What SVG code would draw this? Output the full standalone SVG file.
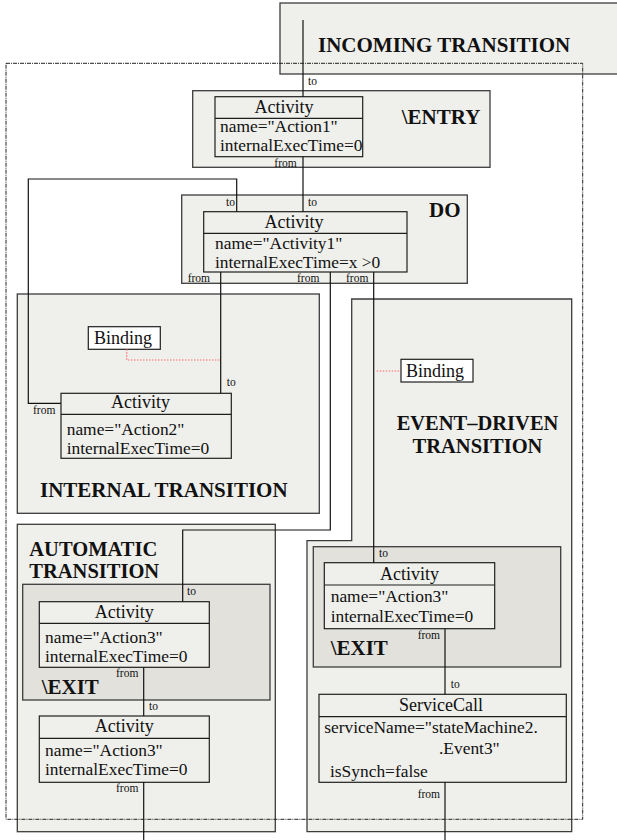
<svg xmlns="http://www.w3.org/2000/svg" width="617" height="840" viewBox="0 0 617 840">
  <style>
    .region { fill: #efefeb; stroke: #3c3c3c; stroke-width: 1.3; }
    .exit { fill: #e2e1dc; stroke: #3c3c3c; stroke-width: 1.3; }
    .cls { fill: #efefeb; stroke: #1e1e1e; stroke-width: 1.2; }
    .sep { stroke: #1e1e1e; stroke-width: 1.2; }
    .tag { fill: #ffffff; stroke: #1e1e1e; stroke-width: 1.2; }
    .wire { fill: none; stroke: #111; stroke-width: 1.2; }
    .bind { fill: none; stroke: #ff6a6a; stroke-width: 1.2; stroke-dasharray: 1.5 1.5; }
    .frame { fill: none; stroke: #222; stroke-width: 1; stroke-dasharray: 4 1 1 1; }
    text { font-family: "Liberation Serif", "Times New Roman", serif; fill: #111; }
    .title { font-size: 21px; font-weight: bold; }
    .title2 { font-size: 20.5px; font-weight: bold; }
    .head { font-size: 18px; }
    .body { font-size: 17.4px; }
    .small { font-size: 11.5px; }
    .mid { text-anchor: middle; }
  </style>

  <!-- Incoming transition -->
  <g id="incoming">
    <rect class="region" x="280" y="3" width="345" height="71"/>
    <text class="title" x="318" y="52">INCOMING TRANSITION</text>
  </g>

  <!-- Entry region -->
  <g id="entry">
    <rect class="region" x="192.7" y="90.7" width="297.3" height="76.6"/>
    <text class="title" x="401.7" y="124">\ENTRY</text>
  </g>
  <g id="action1">
    <rect class="cls" x="215" y="96.7" width="147.7" height="60"/>
    <line class="sep" x1="215" y1="118.3" x2="362.7" y2="118.3"/>
    <text class="head mid" x="284" y="113">Activity</text>
    <text class="body" x="220" y="131.5">name="Action1"</text>
    <text class="body" x="220" y="150.8">internalExecTime=0</text>
  </g>

  <!-- Do region -->
  <g id="do">
    <rect class="region" x="181.7" y="195" width="285.6" height="88.3"/>
    <text class="title" x="429" y="216.7">DO</text>
  </g>
  <g id="activity1">
    <rect class="cls" x="203.7" y="211.7" width="203.3" height="60.3"/>
    <line class="sep" x1="203.7" y1="233.3" x2="407" y2="233.3"/>
    <text class="head mid" x="294" y="228">Activity</text>
    <text class="body" x="215" y="248.5">name="Activity1"</text>
    <text class="body" x="215" y="267.8">internalExecTime=x &gt;0</text>
  </g>

  <!-- Internal transition region -->
  <g id="internal">
    <rect class="region" x="17.3" y="294" width="302" height="219.3"/>
    <text class="title" x="40" y="497.3">INTERNAL TRANSITION</text>
  </g>
  <g id="binding-internal">
    <rect class="tag" x="88.3" y="326.7" width="72" height="22.6"/>
    <text class="head" x="94" y="344">Binding</text>
  </g>
  <g id="action2">
    <rect class="cls" x="61" y="393.3" width="170.3" height="65"/>
    <line class="sep" x1="61" y1="414.3" x2="231.3" y2="414.3"/>
    <text class="head mid" x="140.5" y="408.3">Activity</text>
    <text class="body" x="66.7" y="434.5">name="Action2"</text>
    <text class="body" x="66.7" y="453.8">internalExecTime=0</text>
  </g>

  <!-- Event-driven transition region -->
  <g id="event-driven">
    <path class="region" d="M351.7 299 H571.7 V831.7 H307 V540.7 H351.7 Z"/>
    <text class="title2 mid" x="477.5" y="430">EVENT–DRIVEN</text>
    <text class="title2 mid" x="477.5" y="452.8">TRANSITION</text>
  </g>
  <g id="binding-event">
    <rect class="tag" x="401" y="359.3" width="72" height="22.7"/>
    <text class="head" x="406" y="377">Binding</text>
  </g>
  <g id="exit-event">
    <rect class="exit" x="313.3" y="546.7" width="247.4" height="120.3"/>
    <text class="title" x="330.7" y="655">\EXIT</text>
  </g>
  <g id="action3-event">
    <rect class="cls" x="324.3" y="562.7" width="170.4" height="66"/>
    <line class="sep" x1="324.3" y1="585" x2="494.7" y2="585"/>
    <text class="head mid" x="409.5" y="580">Activity</text>
    <text class="body" x="330.7" y="602.3">name="Action3"</text>
    <text class="body" x="330.7" y="621.6">internalExecTime=0</text>
  </g>
  <g id="service-call">
    <rect class="cls" x="319" y="694.3" width="247.3" height="88"/>
    <line class="sep" x1="319" y1="716.7" x2="566.3" y2="716.7"/>
    <text class="head mid" x="441" y="710.7">ServiceCall</text>
    <text class="body" x="324.3" y="733">serviceName="stateMachine2.</text>
    <text class="body" x="439" y="753.8">.Event3"</text>
    <text class="body" x="330" y="776.7">isSynch=false</text>
  </g>

  <!-- Automatic transition region -->
  <g id="automatic">
    <rect class="region" x="17.3" y="524.3" width="258" height="307.4"/>
    <text class="title2" x="29.3" y="555.6">AUTOMATIC</text>
    <text class="title2" x="29.3" y="578.4">TRANSITION</text>
  </g>
  <g id="exit-auto">
    <rect class="exit" x="22.7" y="584.3" width="247.3" height="115.7"/>
    <text class="title" x="41.7" y="694">\EXIT</text>
  </g>
  <g id="action3-exit">
    <rect class="cls" x="39.3" y="601.7" width="170" height="65.6"/>
    <line class="sep" x1="39.3" y1="623.3" x2="209.3" y2="623.3"/>
    <text class="head mid" x="124.3" y="617.5">Activity</text>
    <text class="body" x="45" y="642.8">name="Action3"</text>
    <text class="body" x="45" y="662.1">internalExecTime=0</text>
  </g>
  <g id="action3-next">
    <rect class="cls" x="39.3" y="716" width="170" height="66.3"/>
    <line class="sep" x1="39.3" y1="738.3" x2="209.3" y2="738.3"/>
    <text class="head mid" x="124.3" y="732">Activity</text>
    <text class="body" x="45" y="755.5">name="Action3"</text>
    <text class="body" x="45" y="774.8">internalExecTime=0</text>
  </g>

  <!-- Connectors -->
  <g id="connectors">
    <polyline class="wire" points="303,20 303,96.7"/>
    <polyline class="wire" points="303,156.7 303,211.7"/>
    <polyline class="wire" points="236.7,211.7 236.7,179 28.3,179 28.3,403.3 61,403.3"/>
    <polyline class="wire" points="220.7,272 220.7,393.3"/>
    <polyline class="wire" points="330.3,272 330.3,530 182.7,530 182.7,601.7"/>
    <polyline class="wire" points="373.7,272 373.7,562.7"/>
    <polyline class="wire" points="143.7,667.3 143.7,716"/>
    <polyline class="wire" points="143.7,782.3 143.7,840"/>
    <polyline class="wire" points="445,628.7 445,694.3"/>
    <polyline class="wire" points="445,782.3 445,840"/>
    <polyline class="bind" points="126.7,349.3 126.7,360 220.7,360"/>
    <polyline class="bind" points="376.7,371 401,371"/>

    <text class="small" x="308" y="85">to</text>
    <text class="small" x="274.3" y="166.7">from</text>
    <text class="small" x="226" y="205.7">to</text>
    <text class="small" x="308" y="205.7">to</text>
    <text class="small" x="187.7" y="281.7">from</text>
    <text class="small" x="297" y="281.7">from</text>
    <text class="small" x="346" y="281.7">from</text>
    <text class="small" x="226.7" y="386">to</text>
    <text class="small" x="33" y="414">from</text>
    <text class="small" x="187" y="595">to</text>
    <text class="small" x="116" y="677">from</text>
    <text class="small" x="149" y="710">to</text>
    <text class="small" x="116" y="791.7">from</text>
    <text class="small" x="379" y="556.7">to</text>
    <text class="small" x="417.7" y="639.3">from</text>
    <text class="small" x="450.7" y="687.7">to</text>
    <text class="small" x="417.7" y="798.3">from</text>
  </g>

  <!-- State boundary -->
  <rect class="frame" x="6" y="63.3" width="576.7" height="756"/>
</svg>
